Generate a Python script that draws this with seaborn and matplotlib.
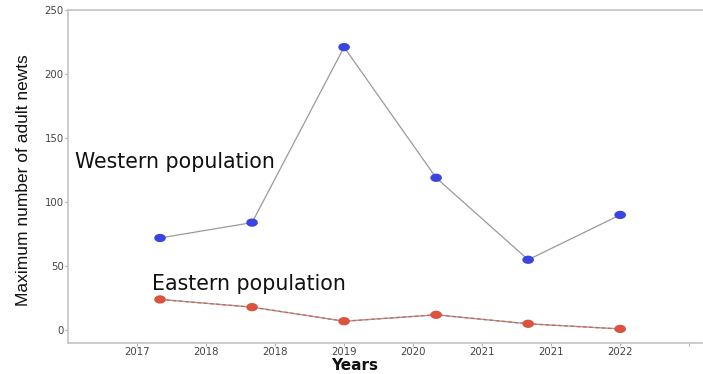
import numpy as np
import pandas as pd
import matplotlib
matplotlib.use("Agg")
import matplotlib.pyplot as plt
from matplotlib.path import Path
from matplotlib import font_manager
import seaborn as sns

# Survey years and maximum counts of adult newts per population
years = [2017, 2018, 2019, 2020, 2021, 2022]
western = [72, 84, 221, 119, 55, 90]
eastern = [24, 18, 7, 12, 5, 1]

x_ticks = [2016.75, 2017.5, 2018.25, 2019.0, 2019.75, 2020.5, 2021.25, 2022.0, 2022.75]
x_tick_labels = ["2017", "2018", "2018", "2019", "2020", "2021", "2021", "2022", ""]
y_ticks = [0, 50, 100, 150, 200, 250]

df = pd.DataFrame({
    "Year": years * 2,
    "Count": western + eastern,
    "Population": ["Western"] * len(years) + ["Eastern"] * len(years),
})

sns.set_theme(style="white")
plt.rcParams["font.family"] = ["DejaVu Sans"]

fig = plt.figure(figsize=(7.03, 3.74), dpi=100)
ax = fig.add_axes([68 / 703, 31 / 374, 635 / 703, 333 / 374])

# Connecting lines
sns.lineplot(data=df[df.Population == "Western"], x="Year", y="Count",
             color="#9a9a9a", linewidth=0.9, ax=ax, legend=False)
sns.lineplot(data=df[df.Population == "Eastern"], x="Year", y="Count",
             color="#a0a0a0", linewidth=1.0, ax=ax, legend=False)
sns.lineplot(data=df[df.Population == "Eastern"], x="Year", y="Count",
             color="#d9604e", linewidth=0.9, linestyle=(0, (3, 2)), ax=ax, legend=False)

# Slightly wide elliptical point markers
t = np.linspace(0, 2 * np.pi, 40)
ellipse = Path(np.column_stack([1.4 * np.cos(t), np.sin(t)]), closed=True)
sns.scatterplot(data=df, x="Year", y="Count", hue="Population",
                palette={"Western": "#3a45e0", "Eastern": "#d9533f"},
                marker=ellipse, s=70, linewidth=0, ax=ax, legend=False, zorder=5)

ax.set_xlim(2016.0, 2022.9)
ax.set_ylim(-10, 250)
ax.set_xticks(x_ticks)
ax.set_xticklabels(x_tick_labels)
ax.set_yticks(y_ticks)

for side in ["left", "bottom", "top"]:
    ax.spines[side].set_color("#c4c4c4")
    ax.spines[side].set_linewidth(1.2)
ax.spines["right"].set_visible(False)

ax.tick_params(axis="both", which="both", direction="out", length=2, width=0.8,
               color="#b0b0b0", labelsize=7.3, labelcolor="#444444", pad=1,
               bottom=True, left=True)
ax.grid(False)

ax.text(2016.08, 127, "Western population", fontsize=14.8, color="#111111",
        ha="left", va="baseline")
ax.text(2016.91, 31, "Eastern population", fontsize=14.8, color="#111111",
        ha="left", va="baseline")

ax.set_xlabel("Years", fontsize=11, fontweight="bold", color="#111111")
ax.xaxis.label.set_va("baseline")
ax.xaxis.set_label_coords(0.451, -0.081)

names = {f.name for f in font_manager.fontManager.ttflist}
if "Liberation Sans Narrow" in names:
    ax.set_ylabel("Maximum number of adult newts", fontsize=14.5,
                  family="Liberation Sans Narrow", color="#111111")
else:
    ax.set_ylabel("Maximum number of adult newts", fontsize=12.5,
                  family="Liberation Sans", color="#111111")
ax.yaxis.set_label_coords(-0.058, 0.49)

fig.savefig("out.png", dpi=100)
